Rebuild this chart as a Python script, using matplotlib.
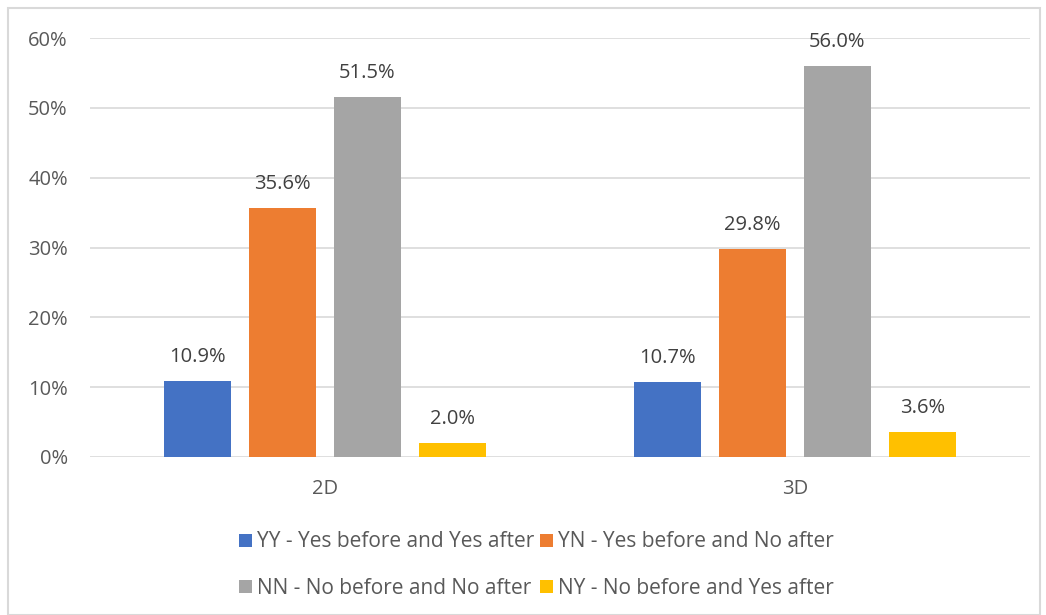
import numpy as np
import matplotlib
matplotlib.use("Agg")
import matplotlib.pyplot as plt
from matplotlib.patches import Rectangle

groups = ["2D", "3D"]
series = ["YY - Yes before and Yes after", "YN - Yes before and No after",
          "NN - No before and No after", "NY - No before and Yes after"]
yy = [10.9, 10.7]
yn = [35.6, 29.8]
nn = [51.5, 56.0]
ny = [2.0, 3.6]
colors = ["#4472C4", "#ED7D31", "#A5A5A5", "#FFC000"]

plt.rcParams['font.family'] = ['Open Sans', 'DejaVu Sans']
txt = "#595959"
fs = 14.5

fig = plt.figure(figsize=(10.46, 6.15), dpi=100)
fig.patches.append(Rectangle((8 / 1046, 0), 1032 / 1046, 607 / 615, transform=fig.transFigure,
                             fill=False, edgecolor="#D9D9D9", linewidth=1.5))
ax = fig.add_axes([90 / 1046, 1 - 457 / 615, 940 / 1046, 419 / 615])

x = np.arange(len(groups))
w = 67 / 470
step = 85 / 470
handles = []
for i, vals in enumerate([yy, yn, nn, ny]):
    pos = x + (i - 1.5) * step
    b = ax.bar(pos, vals, width=w, color=colors[i], label=series[i], zorder=3)
    handles.append(b)
    for p, v in zip(pos, vals):
        ax.annotate(f"{v:.1f}%", (p, v), xytext=(0, 17.5), textcoords="offset points",
                    ha="center", va="center", fontsize=fs, color="#404040")

ax.set_xlim(-0.5, 1.5)
ax.set_ylim(0, 60)
ax.set_yticks(range(0, 61, 10))
ax.set_yticklabels([f"{t}%" for t in range(0, 61, 10)])
ax.set_xticks(x)
ax.set_xticklabels(groups)
ax.tick_params(length=0, labelsize=fs, labelcolor=txt)
ax.tick_params(axis="y", pad=16)
ax.tick_params(axis="x", pad=16)
ax.grid(axis="y", color="#D9D9D9", linewidth=1.2, zorder=0)
for s in ["top", "right", "left", "bottom"]:
    ax.spines[s].set_visible(False)

# legend fills row by row in the reference
order = [0, 2, 1, 3]
ax.legend([handles[k] for k in order], [series[k] for k in order],
          loc="upper center", bbox_to_anchor=(0.475, -0.133), ncol=2, frameon=False,
          fontsize=15, labelcolor=txt, handlelength=0.6, handleheight=0.6,
          handletextpad=0.25, columnspacing=0.3, labelspacing=1.22)

fig.savefig("out.png", dpi=100)
